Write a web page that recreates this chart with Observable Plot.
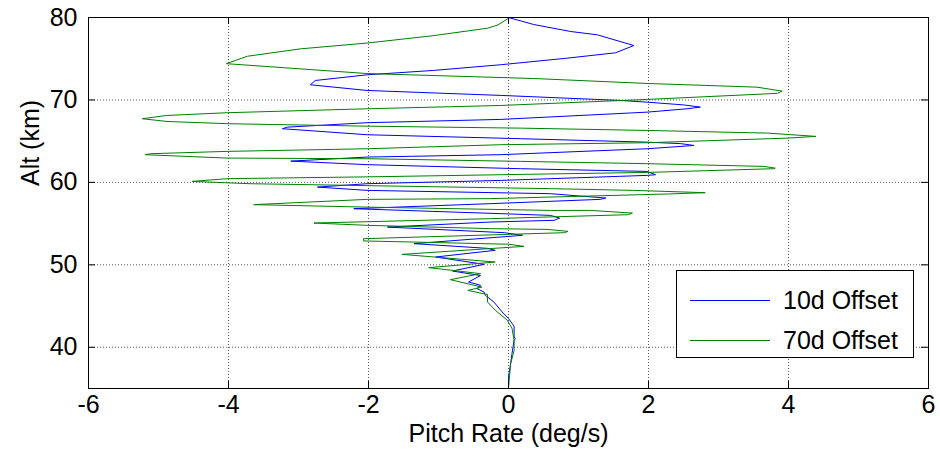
<!DOCTYPE html>
<html>
<head>
<meta charset="utf-8">
<script src="https://cdn.jsdelivr.net/npm/d3@7"></script>
<script src="https://cdn.jsdelivr.net/npm/@observablehq/plot@0.6"></script>
<style>
  body { margin: 0; background: #fff; }
  #wrap { position: relative; width: 940px; height: 461px; font-family: "Liberation Sans", Arial, sans-serif; }
  #legend { position: absolute; left: 676px; top: 270px; width: 238px; height: 88px; border: 1px solid #000; background: #fff; box-sizing: border-box; }
  .entry { position: absolute; left: 0; height: 28px; width: 236px; }
  .entry .sw { position: absolute; left: 13px; top: 14px; width: 80px; height: 0; border-top: 1px solid; }
  .entry .lb { position: absolute; left: 106px; top: 0; font-size: 25px; line-height: 28px; color: #000; white-space: nowrap; }
</style>
</head>
<body>
<div id="wrap">
  <div id="chart"></div>
  <div id="legend"></div>
</div>
<script>
// ---- data ----
const seriesNames = ["10d Offset", "70d Offset"];
const seriesColors = ["#0000ff", "#008000"];

const tenRate = [0.0,0.36,0.89,1.27,1.55,1.79,1.53,0.84,-0.11,-1.07,-2.02,-2.76,-2.83,-2.02,-0.11,1.6,1.98,2.5,2.74,2.55,1.98,-0.11,-2.02,-3.16,-3.23,-2.02,0.17,1.98,2.46,2.65,1.98,-0.11,-2.02,-3.11,-2.02,0.17,1.98,2.1,1.98,-0.11,-2.02,-2.73,-2.02,0.6,1.03,1.39,1.31,-0.26,-2.21,0.6,0.73,0.65,-0.26,-1.73,-0.06,0.2,-1.35,-0.3,-0.19,-1.04,-0.35,-0.8,-0.4,-0.57,-0.4,-0.45,-0.35,-0.33,-0.21,-0.09,0.0,0.08,0.08,0.1,0.08,0.05,0.03,0.0,0.0];
const tenAlt = [80,79.15,78.3,77.9,77.2,76.6,75.72,75.07,74.27,73.58,73.05,72.36,71.84,71.15,70.55,69.94,69.73,69.4,69.13,68.93,68.52,67.64,67.24,66.7,66.51,65.78,65.3,64.88,64.7,64.48,64.08,63.36,63.07,62.58,62.15,61.66,61.33,60.93,60.85,60.24,59.84,59.43,59.03,58.63,58.34,58.1,57.94,57.42,56.81,56.0,55.67,55.4,55.19,54.58,53.9,53.58,52.57,52.0,51.76,50.95,50.06,49.25,48.7,47.92,47.52,47.12,46.7,46.3,45.5,44.28,43.48,42.55,41.25,41.05,40.85,39.24,38.0,36.4,35.0];

const seventyRate = [0.02,-0.15,-0.3,-1.07,-2.02,-2.97,-3.73,-4.03,-2.02,0.36,1.98,3.55,3.91,3.84,1.98,-0.11,-2.02,-4.02,-4.88,-5.23,-4.88,-4.02,-2.02,0.17,1.98,3.7,4.39,3.98,1.98,-0.11,-2.02,-4.02,-5.11,-5.19,-4.02,-2.02,0.17,1.98,3.65,3.81,3.79,1.98,-0.11,-2.02,-4.02,-4.52,-3.69,0.6,1.79,2.81,2.3,-0.26,-2.02,-3.64,-2.02,0.6,1.17,1.77,1.7,-0.26,-2.78,-2.02,-0.26,0.55,0.85,0.8,-2.07,-2.07,0.0,0.22,-1.52,-0.19,-1.14,-0.4,-0.83,-0.38,-0.58,-0.3,-0.3,-0.19,-0.02,0.05,0.08,0.08,0.03,0.0];
const seventyAlt = [80,79.1,78.7,77.8,76.9,76.2,75.3,74.4,73.2,72.6,72.0,71.55,71.07,70.8,70.06,69.33,68.93,68.45,68.12,67.72,67.39,67.12,66.82,66.58,66.3,65.98,65.58,65.37,64.81,64.57,64.08,63.76,63.48,63.36,62.95,62.87,62.55,62.27,61.94,61.73,61.66,61.21,60.93,60.67,60.45,60.12,59.84,59.24,59.03,58.75,58.6,58.03,57.94,57.3,57.0,56.6,56.6,56.28,56.08,55.6,55.07,54.79,54.39,54.3,54.06,53.9,53.17,52.9,52.5,52.24,51.27,50.34,49.66,48.93,48.2,47.3,46.9,46.4,45.5,44.5,43.3,42.3,40.85,39.6,38.0,35.0];

const xTicks = [-6, -4, -2, 0, 2, 4, 6];
const yTicks = [40, 50, 60, 70, 80];
const xDomain = [-6, 6];
const yDomain = [35, 80];
const xLabel = "Pitch Rate (deg/s)";
const yLabel = "Alt (km)";

// ---- build ----
const ten = tenRate.map((r, i) => ({rate: r, alt: tenAlt[i]}));
const seventy = seventyRate.map((r, i) => ({rate: r, alt: seventyAlt[i]}));

const W = 940, H = 461, mL = 88, mR = 12, mT = 17, mB = 73;
const innerW = W - mL - mR, innerH = H - mT - mB;
const tk = 7;
const fs = 25;
const font = '"Liberation Sans", Arial, sans-serif';
const fmt = d => String(d);

const chart = Plot.plot({
  width: W, height: H,
  marginLeft: mL, marginRight: mR, marginTop: mT, marginBottom: mB,
  style: {fontFamily: font, fontSize: fs + "px", background: "#fff", color: "#000"},
  x: {domain: xDomain},
  y: {domain: yDomain},
  marks: [
    Plot.gridX(xTicks, {stroke: "#000", strokeOpacity: 0.65, strokeDasharray: "1,2"}),
    Plot.gridY(yTicks, {stroke: "#000", strokeOpacity: 0.65, strokeDasharray: "1,2"}),
    Plot.line(ten, {x: "rate", y: "alt", stroke: seriesColors[0], strokeWidth: 1, curve: "linear"}),
    Plot.line(seventy, {x: "rate", y: "alt", stroke: seriesColors[1], strokeWidth: 1, curve: "linear"}),
    Plot.frame({stroke: "#000", strokeWidth: 1}),
    Plot.tickX(xTicks, {x: d => d, stroke: "#000", insetTop: innerH - tk}),
    Plot.tickX(xTicks, {x: d => d, stroke: "#000", insetBottom: innerH - tk}),
    Plot.tickY(yTicks, {y: d => d, stroke: "#000", insetRight: innerW - tk}),
    Plot.tickY(yTicks, {y: d => d, stroke: "#000", insetLeft: innerW - tk}),
    Plot.axisX(xTicks, {tickSize: 0, tickPadding: 7, label: null, fontSize: fs, tickFormat: fmt}),
    Plot.axisY(yTicks, {tickSize: 0, tickPadding: 11, label: null, fontSize: fs, tickFormat: fmt}),
    Plot.text([xLabel], {frameAnchor: "bottom", dy: 53, fontSize: fs, text: d => d}),
    Plot.text([yLabel], {frameAnchor: "left", dx: -58, dy: -17, rotate: -90, fontSize: fs, text: d => d})
  ]
});
document.getElementById("chart").appendChild(chart);

// legend
const legend = document.getElementById("legend");
seriesNames.forEach((name, i) => {
  const e = document.createElement("div");
  e.className = "entry";
  e.style.top = (15 + i * 40) + "px";
  const sw = document.createElement("div");
  sw.className = "sw";
  sw.style.borderTopColor = seriesColors[i];
  const lb = document.createElement("div");
  lb.className = "lb";
  lb.textContent = name;
  e.appendChild(sw); e.appendChild(lb);
  legend.appendChild(e);
});
</script>
</body>
</html>
